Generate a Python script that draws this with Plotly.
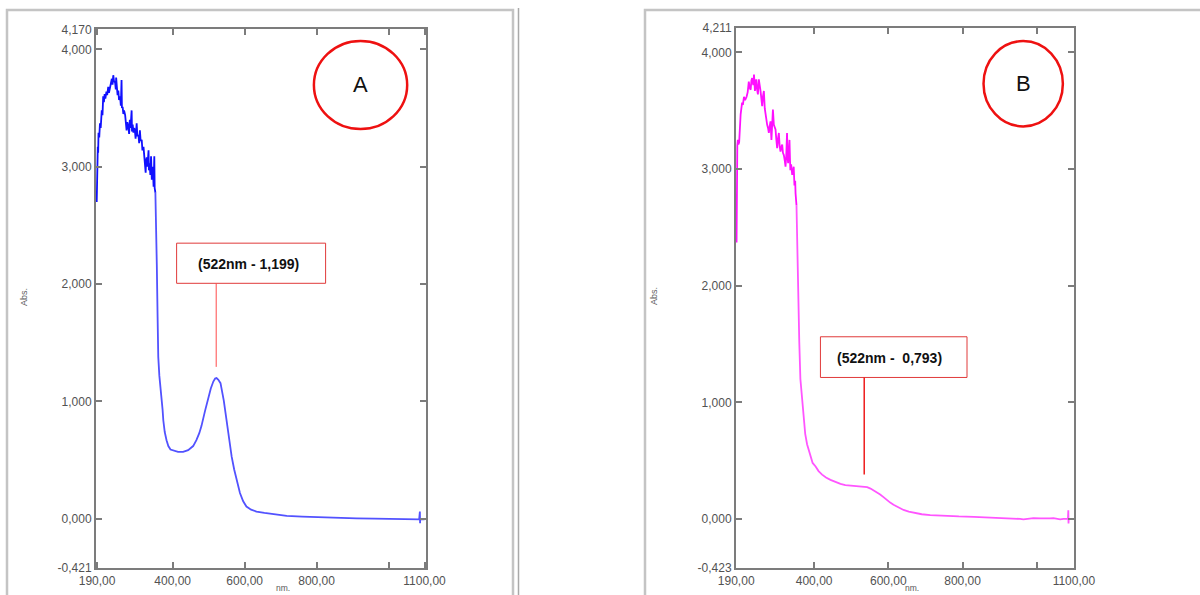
import plotly.graph_objects as go

W, H = 1200, 595

# ---------------- data ----------------
# Panel A : blue spectrum
nm_A = [189, 189.5, 190, 191, 192, 193, 194, 196, 198, 200, 202, 203, 205, 207, 209, 211, 213,
        216, 218, 221, 223, 226, 228, 231, 233, 235, 237, 240, 242, 243, 245, 247, 249, 251,
        254, 256, 258, 259, 261, 263, 265, 268, 270, 272, 274, 277, 279, 281, 283, 286, 287,
        289, 291, 293, 295, 297, 300, 302, 305, 307, 309, 311, 314, 316, 319, 321, 323, 325,
        326, 328, 330, 333, 334, 336, 338, 340, 342, 343, 345, 347, 349, 350, 352,
        354, 356, 358, 360, 363, 366, 369, 372, 374, 378, 383, 388, 394, 402, 415, 429, 443,
        457, 466, 474, 480, 490, 499, 506, 513, 518, 522, 527, 533, 538, 542, 547, 552, 558,
        564, 571, 578, 587, 596, 605, 618, 633, 655, 679, 717, 760, 800, 850, 911, 960, 1000,
        1059, 1062, 1085, 1087, 1087.5, 1088, 1100]
abs_A = [2.70, 2.92, 2.80, 3.05, 3.17, 3.12, 3.29, 3.25, 3.37, 3.33, 3.46, 3.48, 3.44, 3.60, 3.55,
         3.62, 3.58, 3.64, 3.61, 3.68, 3.63, 3.67, 3.71, 3.75, 3.70, 3.78, 3.73, 3.72, 3.66, 3.76,
         3.68, 3.61, 3.65, 3.57, 3.60, 3.52, 3.74, 3.50, 3.51, 3.45, 3.48, 3.44, 3.33, 3.31, 3.38,
         3.34, 3.28, 3.40, 3.33, 3.48, 3.30, 3.36, 3.29, 3.33, 3.31, 3.24, 3.37, 3.26, 3.27, 3.20,
         3.31, 3.22, 3.23, 3.14, 3.17, 3.10, 3.09, 2.95, 3.05, 3.08, 3.00, 3.14, 2.97, 3.03, 2.93,
         3.09, 2.89, 2.98, 3.00, 2.83, 3.09, 2.82, 2.78,
         2.55, 2.16, 1.75, 1.38, 1.22, 1.13, 1.06, 0.93, 0.84, 0.74, 0.67, 0.62, 0.59, 0.58, 0.57,
         0.57, 0.585, 0.62, 0.67, 0.73, 0.79, 0.92, 1.04, 1.11, 1.17, 1.195, 1.199, 1.185, 1.156,
         1.09, 1.01, 0.90, 0.79, 0.66, 0.53, 0.42, 0.33, 0.22, 0.15, 0.105, 0.078, 0.062, 0.05,
         0.04, 0.026, 0.019, 0.014, 0.009, 0.004, 0.002, 0.001,
         0.0, -0.004, -0.005, 0.062, -0.037, -0.004, -0.005]
NOISE_END_A = 352

# Panel B : magenta spectrum
nm_B = [191, 191.2, 191.4, 191.6, 192, 193, 194.5, 196, 198, 200, 202, 204, 206, 208, 211, 214,
        218, 221, 224, 226, 229, 231, 233, 236, 238, 240.5, 242, 244, 246, 248.5, 251, 253,
        255.6, 258, 260, 262, 264.6, 267, 269, 271, 273.5, 276, 278, 280, 282.5, 285, 287, 289,
        291.5, 294, 296, 298, 300.4, 303, 305, 307, 309.4, 312, 314, 316, 318.4, 321, 323, 325,
        327, 328.5, 330, 332, 333.6, 335, 336, 338, 341, 343, 345, 347, 349, 350, 352.5,
        354, 357, 360, 363, 368, 372, 376, 381, 390, 396, 404, 412, 421.5, 432, 444, 458, 471,
        484, 498, 512, 525, 534, 543, 552, 560, 569, 578, 587, 596, 605, 614, 627, 641, 655,
        668, 690, 713, 740, 758, 790, 830, 870, 919, 940, 955, 964, 975, 991, 1010, 1027, 1035,
        1045, 1055, 1063, 1072, 1084, 1085, 1085.5, 1086, 1099]
abs_B = [2.37, 2.69, 3.08, 2.72, 3.08, 3.20, 3.25, 3.21, 3.23, 3.38, 3.47, 3.52, 3.57, 3.55, 3.62,
         3.59, 3.62, 3.66, 3.75, 3.70, 3.68, 3.76, 3.78, 3.72, 3.81, 3.67, 3.72, 3.77, 3.69, 3.64,
         3.77, 3.70, 3.67, 3.60, 3.54, 3.62, 3.67, 3.52, 3.47, 3.42, 3.38, 3.35, 3.31, 3.36, 3.41,
         3.25, 3.40, 3.51, 3.38, 3.36, 3.34, 3.26, 3.18, 3.27, 3.31, 3.20, 3.15, 3.19, 3.21, 3.14,
         3.12, 3.07, 3.02, 3.12, 3.31, 3.10, 3.05, 3.16, 3.25, 3.08, 2.99, 3.04, 2.95, 2.98, 3.02,
         2.86, 2.90, 2.79, 2.69,
         2.40, 2.01, 1.52, 1.20, 1.00, 0.84, 0.73, 0.64, 0.53, 0.48, 0.45, 0.41, 0.38, 0.355,
         0.335, 0.315, 0.30, 0.29, 0.286, 0.282, 0.28, 0.278, 0.272, 0.26, 0.245, 0.228, 0.21,
         0.187, 0.162, 0.14, 0.122, 0.098, 0.077, 0.062, 0.052, 0.04, 0.033, 0.027, 0.025, 0.021,
         0.018, 0.014, 0.008, 0.006, 0.0, -0.004, 0.002, 0.006, 0.004, 0.0, 0.004, 0.006, 0.002,
         -0.004, 0.001, 0.0, 0.075, -0.04, 0.0, 0.0]
NOISE_END_B = 352.5

x_tickvals = [190, 400, 600, 800, 1000, 1100]
x_ticktext = ["190,00", "400,00", "600,00", "800,00", "", "1100,00"]
yA_tickvals = [-0.421, 0, 1, 2, 3, 4, 4.170]
yA_ticktext = ["-0,421", "0,000", "1,000", "2,000", "3,000", "4,000", "4,170"]
yB_tickvals = [-0.423, 0, 1, 2, 3, 4, 4.211]
yB_ticktext = ["-0,423", "0,000", "1,000", "2,000", "3,000", "4,000", "4,211"]

label_A = "(522nm - 1,199)"
label_B = "(522nm -  0,793)"

# ---------------- figure ----------------
fig = go.Figure()


def add_curve(nm, ab, cut, c_noisy, c_smooth, xa, ya):
    xn = [x for x in nm if x <= cut]
    yn = [y for x, y in zip(nm, ab) if x <= cut]
    xs = [x for x in nm if x >= cut]
    ys = [y for x, y in zip(nm, ab) if x >= cut]
    fig.add_trace(go.Scatter(x=xs, y=ys, mode="lines", xaxis=xa, yaxis=ya,
                             line=dict(color=c_smooth, width=1.8), hoverinfo="skip"))
    fig.add_trace(go.Scatter(x=xn, y=yn, mode="lines", xaxis=xa, yaxis=ya,
                             line=dict(color=c_noisy, width=1.8), hoverinfo="skip"))


add_curve(nm_A, abs_A, NOISE_END_A, "#1010ff", "#5252ff", "x", "y")
add_curve(nm_B, abs_B, NOISE_END_B, "#ff10ff", "#ff55ff", "x2", "y2")

axis_common = dict(showline=True, linecolor="#7c7c7c", linewidth=2, mirror="ticks",
                   ticks="inside", ticklen=6, tickwidth=1.5, tickcolor="#7c7c7c",
                   showgrid=False, zeroline=False, automargin=False,
                   tickfont=dict(family="Arial", size=12, color="#525252"))

fig.update_layout(
    template="none",
    width=W, height=H, margin=dict(l=0, r=0, t=0, b=0, pad=0, autoexpand=False),
    paper_bgcolor="white", plot_bgcolor="white", showlegend=False,
    xaxis=dict(domain=[96 / W, 426 / W], range=[187, 1104], anchor="y",
               tickmode="array", tickvals=x_tickvals, ticktext=x_ticktext, **axis_common),
    yaxis=dict(domain=[1 - 568.3 / H, 1 - 29.4 / H], range=[-0.4215, 4.1705], anchor="x",
               tickmode="array", tickvals=yA_tickvals, ticktext=yA_ticktext, **axis_common),
    xaxis2=dict(domain=[736 / W, 1074 / W], range=[189.5, 1100.3], anchor="y2",
                tickmode="array", tickvals=x_tickvals, ticktext=x_ticktext, **axis_common),
    yaxis2=dict(domain=[1 - 568.3 / H, 1 - 27.8 / H], range=[-0.4235, 4.2115], anchor="x2",
                tickmode="array", tickvals=yB_tickvals, ticktext=yB_ticktext, **axis_common),
)

shapes = []
# outer window frames
shapes.append(dict(type="rect", xref="paper", yref="paper", x0=7 / W, x1=513 / W,
                   y0=-0.05, y1=1 - 10 / H, line=dict(color="#c4c4c4", width=2.5), layer="below"))
shapes.append(dict(type="line", xref="paper", yref="paper", x0=518.5 / W, x1=518.5 / W,
                   y0=-0.05, y1=1 - 8 / H, line=dict(color="#a9a9a9", width=1.5), layer="below"))
shapes.append(dict(type="rect", xref="paper", yref="paper", x0=645 / W, x1=1.02,
                   y0=-0.05, y1=1 - 10 / H, line=dict(color="#c4c4c4", width=2.5), layer="below"))

# annotation boxes + leader lines (data coordinates)
shapes.append(dict(type="rect", xref="x", yref="y", x0=411, x1=825, y0=2.007, y1=2.349,
                   line=dict(color="#e03a3a", width=1), fillcolor="white"))
shapes.append(dict(type="line", xref="x", yref="y", x0=521, x1=521, y0=1.295, y1=2.007,
                   line=dict(color="#ff4a4a", width=1)))
shapes.append(dict(type="rect", xref="x2", yref="y2", x0=417, x1=812, y0=1.213, y1=1.562,
                   line=dict(color="#e03a3a", width=1), fillcolor="white"))
shapes.append(dict(type="line", xref="x2", yref="y2", x0=535, x1=535, y0=0.381, y1=1.213,
                   line=dict(color="#ee1c1c", width=1.5)))

# red circles
shapes.append(dict(type="circle", xref="x", yref="y", x0=792.5, x1=1051.7, y0=3.322, y1=4.072,
                   line=dict(color="#ee1111", width=2.5)))
shapes.append(dict(type="circle", xref="x2", yref="y2", x0=856.5, x1=1070.3, y0=3.366, y1=4.098,
                   line=dict(color="#ee1111", width=2.5)))

annotations = [
    dict(xref="x", yref="y", x=611, y=2.172, text=f"<b>{label_A}</b>", showarrow=False,
         font=dict(family="Arial", size=14, color="#111111")),
    dict(xref="x2", yref="y2", x=602, y=1.38, text=f"<b>{label_B}</b>", showarrow=False,
         font=dict(family="Arial", size=14, color="#111111")),
    dict(xref="x", yref="y", x=922, y=3.697, text="A", showarrow=False,
         font=dict(family="Arial", size=22, color="#111111")),
    dict(xref="x2", yref="y2", x=963, y=3.73, text="B", showarrow=False,
         font=dict(family="Arial", size=22, color="#111111")),
    dict(xref="paper", yref="paper", x=17 / W, y=1 - 297 / H, text="Abs.", textangle=-90,
         showarrow=False, font=dict(family="Arial", size=9, color="#606060")),
    dict(xref="paper", yref="paper", x=654 / W, y=1 - 296 / H, text="Abs.", textangle=-90,
         showarrow=False, font=dict(family="Arial", size=9, color="#606060")),
    dict(xref="paper", yref="paper", x=274 / W, y=1 - 595 / H, yanchor="bottom", text="nm.",
         showarrow=False, font=dict(family="Arial", size=8.5, color="#585858")),
    dict(xref="paper", yref="paper", x=921 / W, y=1 - 595 / H, yanchor="bottom", text="nm.",
         showarrow=False, font=dict(family="Arial", size=8.5, color="#585858")),
]

fig.update_layout(shapes=shapes, annotations=annotations)

fig.write_html("out.html",
               config={"displayModeBar": False},
               post_script="document.body.style.margin='0px';"
                           "document.body.style.padding='0px';"
                           "document.documentElement.style.overflow='hidden';")
